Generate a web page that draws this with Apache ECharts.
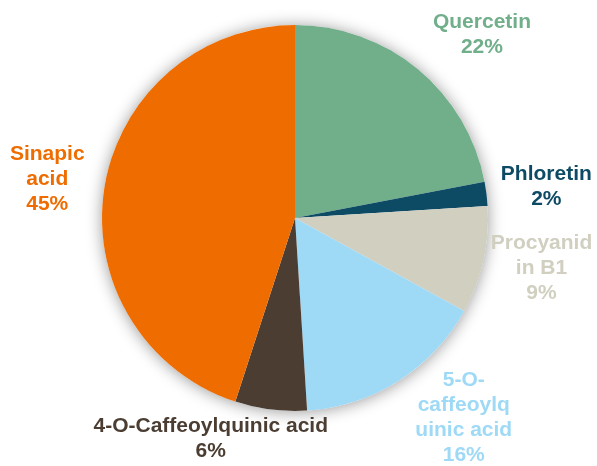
<!DOCTYPE html>
<html>
<head>
<meta charset="utf-8">
<script src="https://cdn.jsdelivr.net/npm/echarts@6/dist/echarts.min.js"></script>
<style>html,body{margin:0;padding:0;background:#fff;}#c{width:597px;height:466px;}</style>
</head>
<body>
<div id="c"></div>
<script>
const categories = ['Quercetin', 'Phloretin', 'Procyanidin B1', '5-O-caffeoylquinic acid', '4-O-Caffeoylquinic acid', 'Sinapic acid'];
const labelTexts = ['Quercetin', 'Phloretin', 'Procyanid\nin B1', '5-O-\ncaffeoylq\nuinic acid', '4-O-Caffeoylquinic acid', 'Sinapic\nacid'];
const values = [22, 2, 9, 16, 6, 45];

// styling
const colors = ['#71AE8A', '#0D4A64', '#D0CFC0', '#9ED9F6', '#4B3D31', '#EE6C00'];
const labelNudge = [[26, 11], [3, 0], [-7, -6], [24, -28], [-54, -19], [-6, -1]];
const CX = 295, CY = 218, R = 193, GAP = 9;

const total = values.reduce((a, b) => a + b, 0);
const midAngles = [];
let acc = 0;
values.forEach(v => { midAngles.push((acc + v / 2) / total * 2 * Math.PI); acc += v; });

const chart = echarts.init(document.getElementById('c'));
chart.setOption({
  animation: false,
  series: [
    {
      type: 'pie', silent: true, z: 1,
      center: [CX, CY], radius: R,
      label: { show: false }, labelLine: { show: false },
      itemStyle: { color: '#ffffff', shadowBlur: 16, shadowColor: 'rgba(0,0,0,0.4)', shadowOffsetY: 1 },
      data: [{ value: 1, name: 'bg' }]
    },
    {
      type: 'pie', z: 2,
      center: [CX, CY], radius: R,
      startAngle: 90, clockwise: true,
      percentPrecision: 0,
      avoidLabelOverlap: false,
      labelLine: { show: false },
      label: {
        show: true, position: 'outside',
        fontFamily: 'Liberation Sans, Arial, sans-serif',
        fontWeight: 'bold', fontSize: 21, lineHeight: 25,
        align: 'center',
        formatter: p => labelTexts[p.dataIndex] + '\n' + Math.round(p.percent) + '%'
      },
      labelLayout: function (p) {
        const i = p.dataIndex;
        const a = midAngles[i];
        const ux = Math.sin(a), uy = -Math.cos(a);
        const w = p.labelRect.width, h = p.labelRect.height;
        const d = R + GAP + (Math.abs(ux) * w + Math.abs(uy) * h) / 2;
        return {
          x: CX + ux * d + labelNudge[i][0],
          y: CY + uy * d + labelNudge[i][1],
          align: 'center', verticalAlign: 'middle'
        };
      },
      data: categories.map((c, i) => ({
        name: c, value: values[i],
        itemStyle: { color: colors[i] },
        label: { color: colors[i] }
      }))
    }
  ]
});
</script>
</body>
</html>
